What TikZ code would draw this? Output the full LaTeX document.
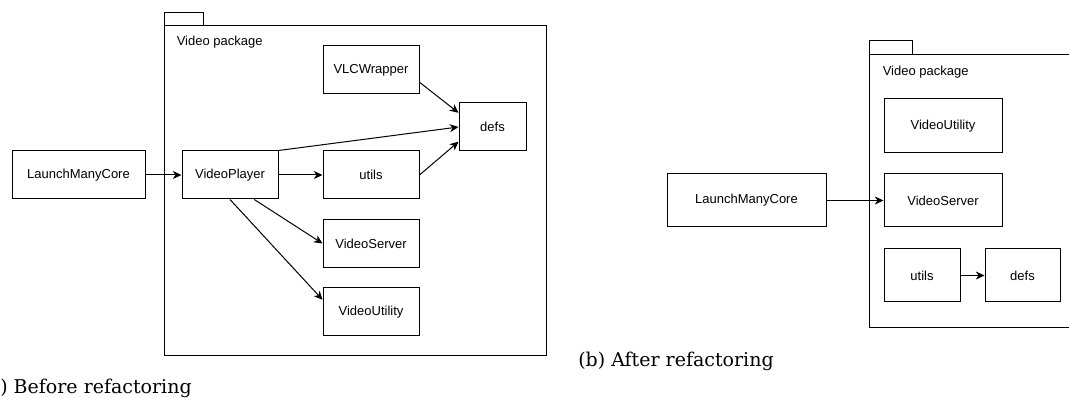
\documentclass[tikz,border=0pt]{standalone}
\usepackage{fontspec}
\setmainfont{DejaVu Serif}
\newfontfamily\sansf{Liberation Sans}
\usetikzlibrary{arrows.meta,calc}
\newcommand\pxu{0.75pt}
\tikzset{
  box/.style={draw, line width=0.75pt, inner sep=0pt, font=\sansf\fontsize{9.75pt}{11pt}\selectfont},
  pkg/.style={draw, line width=0.75pt, inner sep=0pt, anchor=north west},
  lbl/.style={inner sep=0pt, anchor=west, font=\sansf\fontsize{9.75pt}{11pt}\selectfont},
  captext/.style={inner sep=0pt, font=\fontsize{14.25pt}{16pt}\selectfont},
  arr/.style={line width=0.75pt, -{Stealth[length=6.5pt,width=6pt,inset=2pt]}}
}
\begin{document}
\begin{tikzpicture}[x=0.75pt,y=-0.75pt]
\useasboundingbox (0,0) rectangle (1069,398);
% ---------- (a) before ----------
\node[pkg, minimum width=39*\pxu, minimum height=13*\pxu] (tabA) at (164,12) {};
\node[pkg, minimum width=382*\pxu, minimum height=330*\pxu] (pkgA) at (164,25) {};
\node[lbl] (titleA) at (176.5,42) {Video package};
\node[box, minimum width=133*\pxu, minimum height=48*\pxu] (lmcA) at (78.5,175) {LaunchManyCore};
\node[box, minimum width=96*\pxu, minimum height=48*\pxu] (vp) at (230,175) {VideoPlayer};
\node[box, minimum width=96*\pxu, minimum height=48*\pxu] (vlc) at (371,70) {VLCWrapper};
\node[box, minimum width=67*\pxu, minimum height=48*\pxu] (defsA) at (492.5,127) {defs};
\node[box, minimum width=96*\pxu, minimum height=48*\pxu] (utilsA) at (371,175) {utils};
\node[box, minimum width=96*\pxu, minimum height=48*\pxu] (vsA) at (371,243.5) {VideoServer};
\node[box, minimum width=96*\pxu, minimum height=48*\pxu] (vuA) at (371,312) {VideoUtility};
\draw[arr] (lmcA.east) -- (vp.west);
\draw[arr] (vp.east) -- (utilsA.west);
\draw[arr] (vp.north east) -- (defsA.west);
\draw[arr] ($(vlc.north east)!0.75!(vlc.south east)$) -- ($(defsA.north west)!0.21!(defsA.south west)$);
\draw[arr] (utilsA.east) -- ($(defsA.north west)!0.8!(defsA.south west)$);
\draw[arr] ($(vp.south west)!0.75!(vp.south east)$) -- (vsA.west);
\draw[arr] (vp.south) -- ($(vuA.north west)!0.25!(vuA.south west)$);
\node[captext, anchor=base east] (capA) at (192,393) {(a) Before refactoring};
% ---------- (b) after ----------
\node[pkg, minimum width=43*\pxu, minimum height=14*\pxu] (tabB) at (869,40) {};
\node[pkg, minimum width=210*\pxu, minimum height=273*\pxu] (pkgB) at (869,54) {};
\node[lbl] (titleB) at (882.5,72.5) {Video package};
\node[box, minimum width=159*\pxu, minimum height=53*\pxu] (lmcB) at (746.5,200.5) {LaunchManyCore};
\node[box, minimum width=118*\pxu, minimum height=54*\pxu] (vuB) at (943,126) {VideoUtility};
\node[box, minimum width=118*\pxu, minimum height=53*\pxu] (vsB) at (943,200.5) {VideoServer};
\node[box, minimum width=76*\pxu, minimum height=53*\pxu] (utilsB) at (922,275.5) {utils};
\node[box, minimum width=75*\pxu, minimum height=53*\pxu] (defsB) at (1022.5,275.5) {defs};
\draw[arr] (lmcB.east) -- (vsB.west);
\draw[arr] (utilsB.east) -- (defsB.west);
\node[captext, anchor=base west] (capB) at (578,366) {(b) After refactoring};
\end{tikzpicture}
\end{document}
